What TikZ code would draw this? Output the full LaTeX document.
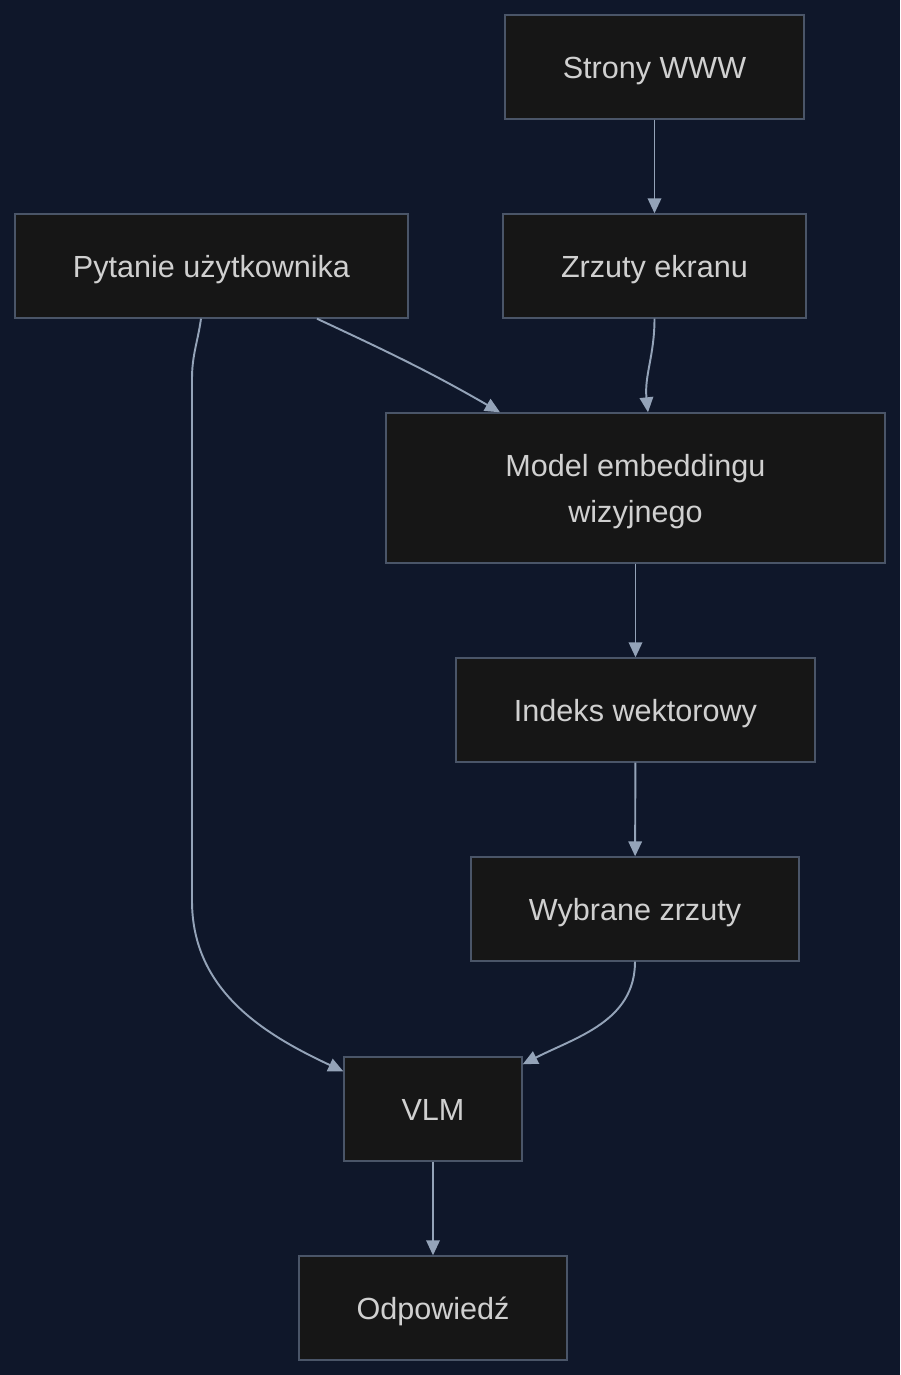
\documentclass[tikz,border=0pt]{standalone}
\usepackage{fontspec}
\setmainfont{Liberation Sans}
\usetikzlibrary{arrows.meta,calc}
\definecolor{tlo}{RGB}{15,23,42}
\definecolor{wypelnienie}{RGB}{22,22,22}
\definecolor{ramka}{RGB}{74,85,104}
\definecolor{linia}{RGB}{148,163,184}
\definecolor{napis}{RGB}{208,208,208}
\begin{document}
\begin{tikzpicture}[
  blok/.style={draw=ramka, line width=0.8pt, fill=wypelnienie, text=napis,
    minimum height=2.08cm, inner sep=0pt, align=center,
    text height=12.6pt, text depth=0pt,
    font=\fontsize{17.4}{26.2}\selectfont},
  krawedz/.style={draw=linia, line width=1.1pt,
    -{Triangle[length=0.3cm,width=0.27cm]}}
]
\fill[tlo] (0,0) rectangle (18,-27.5);
\useasboundingbox (0,0) rectangle (18,-27.5);
\node[blok, minimum width=5.98cm] (www) at (13.09,-1.34) {Strony WWW};
\node[blok, minimum width=7.86cm] (pyt) at (4.23,-5.32) {Pytanie użytkownika};
\node[blok, minimum width=6.06cm] (zrz) at (13.09,-5.32) {Zrzuty ekranu};
\node[blok, minimum width=9.98cm, minimum height=3.0cm, text height=38.8pt] (mod) at (12.71,-9.76) {Model embeddingu\\wizyjnego};
\node[blok, minimum width=7.18cm] (idx) at (12.71,-14.2) {Indeks wektorowy};
\node[blok, minimum width=6.56cm] (wyb) at (12.70,-18.18) {Wybrane zrzuty};
\node[blok, minimum width=3.56cm] (vlm) at (8.66,-22.18) {VLM};
\node[blok, minimum width=5.36cm] (odp) at (8.66,-26.16) {Odpowiedź};
\draw[krawedz] (www) -- (zrz);
\draw[krawedz] (zrz.south) to[out=-90,in=96] ([xshift=0.25cm]mod.north);
\draw[krawedz] ([xshift=2.11cm]pyt.south) to[out=-25,in=150] ([xshift=-2.71cm]mod.north);
\draw[krawedz] ([xshift=-0.21cm]pyt.south) to[out=-98,in=90] ++(-0.18,-1.2)
  -- ++(0,-10.44) to[out=-90,in=155] ([yshift=-0.3cm]vlm.north west);
\draw[krawedz] (mod) -- (idx);
\draw[krawedz] (idx) -- (wyb);
\draw[krawedz] (wyb.south) to[out=-90,in=27] ([yshift=-0.16cm]vlm.north east);
\draw[krawedz] (vlm) -- (odp);
\end{tikzpicture}
\end{document}
